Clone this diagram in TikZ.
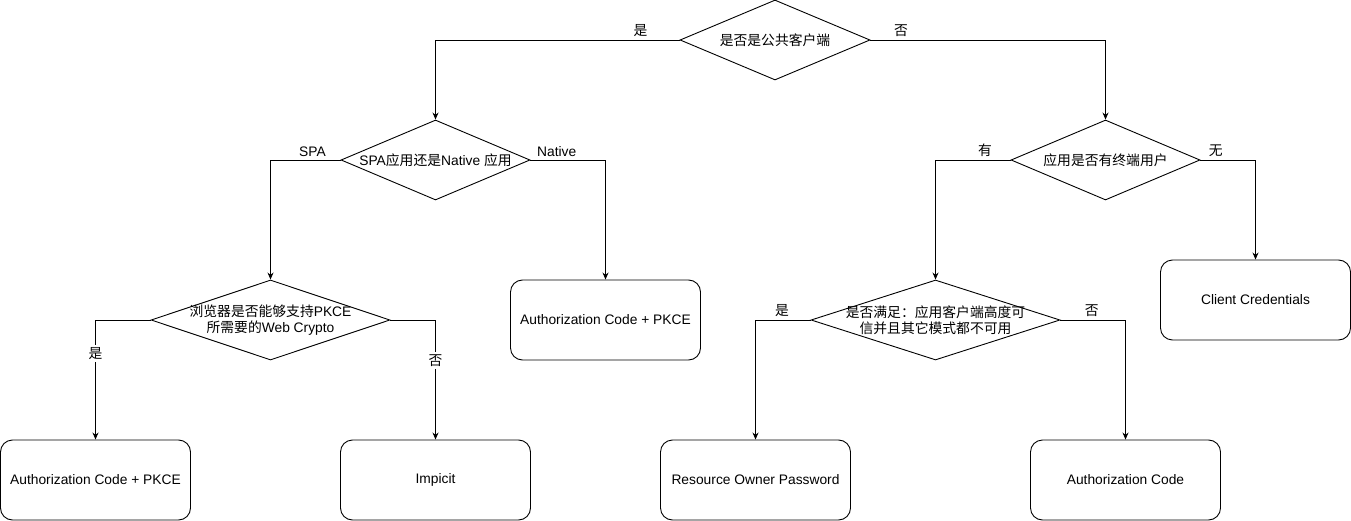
\documentclass[tikz,border=0pt]{standalone}
\usepackage{fontspec}
\setmainfont{Liberation Sans}
\newfontfamily\cjk{Noto Sans CJK SC}
\usetikzlibrary{shapes.geometric, arrows.meta}

\begin{document}
\begin{tikzpicture}[x=1pt, y=-1pt, line width=0.9pt,
  font=\fontsize{13.8}{15.5}\selectfont,
  choice/.style={diamond, draw, inner sep=0pt, minimum width=#1, minimum height=80pt},
  outcome/.style={draw, rounded corners=12pt, minimum width=190pt, minimum height=80pt},
  flow/.style={-{Stealth[length=7pt, width=6pt]}},
  lbl/.style={inner sep=2.5pt}]
  \useasboundingbox (0,0) rectangle (1351,521);

  % Decisions
  \node[choice=190pt, label={center:{\cjk 是否是公共客户端}}] (pub) at (775,40) {};
  \node[choice=189pt, label={center:SPA{\cjk 应用还是}Native {\cjk 应用}}] (spa) at (435.5,160) {};
  \node[choice=189pt, label={center:{\cjk 应用是否有终端用户}}] (usr) at (1105.5,160) {};
  \node[choice=239pt, label={[align=center]center:{\cjk 浏览器是否能够支持}PKCE\\{\cjk 所需要的}Web Crypto}] (web) at (270.5,320) {};
  \node[choice=249pt, label={[align=center]center:{\cjk 是否满足：应用客户端高度可}\\{\cjk 信并且其它模式都不可用}}] (trust) at (935.5,320) {};

  % Outcomes
  \node[outcome] (natpkce) at (605.5,320) {Authorization Code + PKCE};
  \node[outcome] (client) at (1255.5,300) {Client Credentials};
  \node[outcome] (spapkce) at (95.5,480) {Authorization Code + PKCE};
  \node[outcome] (implicit) at (435.5,480) {Impicit};
  \node[outcome] (ropc) at (755.5,480) {Resource Owner Password};
  \node[outcome] (code) at (1125.5,480) {Authorization Code};

  % Connectors
  \draw[flow] (pub.west) -| node[lbl, pos=0.08, above] {\cjk 是} (spa.north);
  \draw[flow] (pub.east) -| node[lbl, pos=0.065, above] {\cjk 否} (usr.north);
  \draw[flow] (spa.west) -| node[lbl, pos=0.2, above] {SPA} (web.north);
  \draw[flow] (spa.east) -| node[lbl, pos=0.175, above] {Native} (natpkce.north);
  \draw[flow] (usr.west) -| node[lbl, pos=0.17, above] {\cjk 有} (trust.north);
  \draw[flow] (usr.east) -| node[lbl, pos=0.14, above] {\cjk 无} (client.north);
  \draw[flow] (web.west) -| node[lbl, pos=0.64, fill=white] {\cjk 是} (spapkce.north);
  \draw[flow] (web.east) -| node[lbl, pos=0.67, fill=white] {\cjk 否} (implicit.north);
  \draw[flow] (trust.west) -| node[lbl, pos=0.26, above] {\cjk 是} (ropc.north);
  \draw[flow] (trust.east) -| node[lbl, pos=0.24, above] {\cjk 否} (code.north);
\end{tikzpicture}
\end{document}
